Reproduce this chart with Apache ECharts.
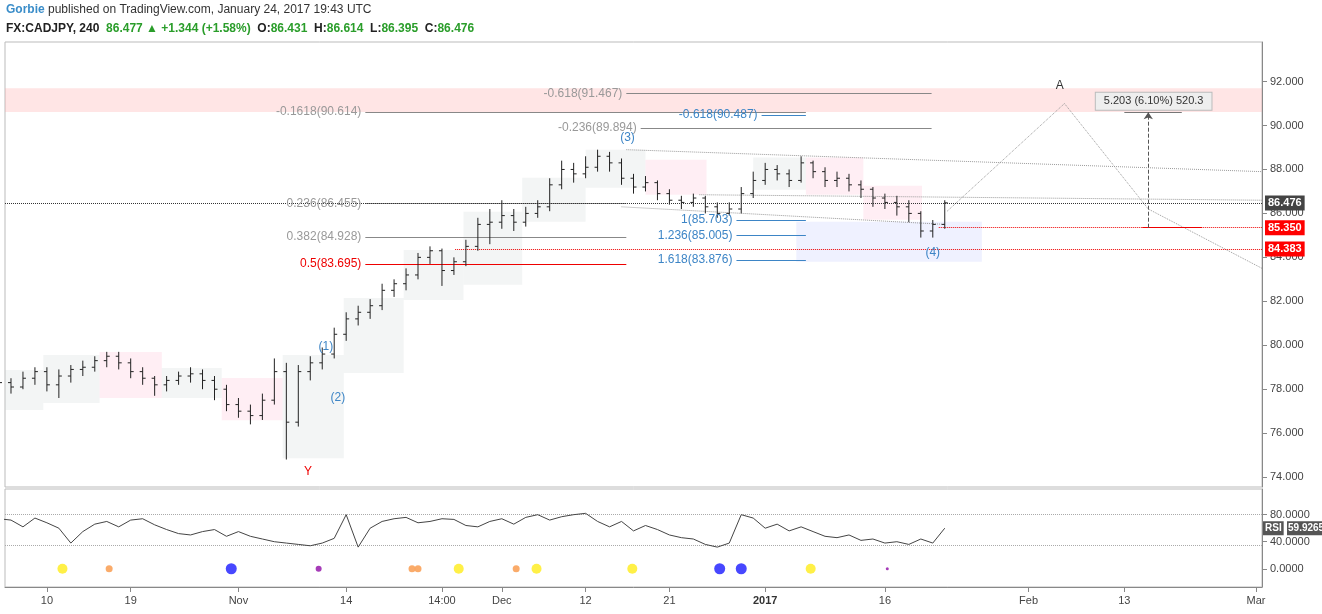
<!DOCTYPE html>
<html><head><meta charset="utf-8">
<script src="https://cdn.jsdelivr.net/npm/echarts@6/dist/echarts.min.js"></script>
<style>html,body{margin:0;padding:0;background:#fff}#c{width:1322px;height:614px}</style>
</head><body><div id="c"></div>
<script>
// daily bars [open, close, low, high], first bar at day index -3 (0 = Oct 10 2016)
const firstIndex = -4;
const bars = [
[78.2,78.3,77.9,78.6],[78.3,78.1,77.8,78.5],[78.1,78.5,78.0,78.8],[78.5,78.8,78.2,79.0],[78.8,78.2,77.9,79.0],
[78.2,78.6,77.6,78.9],[78.6,78.9,78.3,79.1],[78.9,79.0,78.6,79.3],[79.0,79.3,78.8,79.5],[79.3,79.5,79.0,79.7],
[79.5,79.2,78.9,79.7],[79.2,78.8,78.5,79.4],[78.8,78.5,78.2,79.0],[78.5,78.2,77.7,78.6],[78.2,78.4,77.9,78.6],
[78.4,78.6,78.2,78.8],[78.6,78.7,78.3,79.0],[78.7,78.4,78.0,78.9],[78.4,78.0,77.5,78.6],[78.0,77.3,77.0,78.2],
[77.3,77.0,76.7,77.6],[77.0,76.8,76.4,77.3],[76.8,77.5,76.6,77.8],[77.5,78.8,77.3,79.4],[78.8,76.5,74.8,79.2],
[76.5,78.8,76.3,79.1],[78.8,79.2,78.4,79.5],[79.2,79.6,78.9,79.9],[79.6,80.5,79.4,80.8],[80.5,81.2,80.2,81.5],
[81.2,81.5,80.9,81.8],[81.5,81.8,81.2,82.1],[81.8,82.5,81.6,82.8],[82.5,82.8,82.2,83.0],[82.8,83.2,82.5,83.5],
[83.2,84.0,83.0,84.2],[84.0,84.3,83.7,84.5],[84.3,83.4,82.7,84.4],[83.4,83.8,83.2,84.0],[83.8,84.5,83.6,84.8],
[84.5,85.5,84.3,85.8],[85.5,85.6,84.6,86.2],[85.6,85.9,85.3,86.6],[85.9,85.6,85.2,86.2],[85.6,86.0,85.4,86.3],
[86.0,86.3,85.8,86.6],[86.3,87.3,86.1,87.6],[87.3,88.0,87.1,88.4],[88.0,87.8,87.4,88.3],[87.8,88.1,87.6,88.6],
[88.1,88.6,87.9,88.9],[88.6,88.3,87.9,88.8],[88.3,87.6,87.3,88.5],[87.6,87.2,86.9,87.8],[87.2,87.4,87.0,87.7],
[87.4,86.9,86.6,87.5],[86.9,86.6,86.4,87.1],[86.6,86.5,86.2,86.8],[86.5,86.7,86.3,86.9],[86.7,86.3,86.0,86.8],
[86.3,86.0,85.8,86.5],[86.0,86.2,85.9,86.5],[86.2,86.9,86.0,87.2],[86.9,87.5,86.7,87.9],[87.5,88.0,87.3,88.3],
[88.0,87.8,87.5,88.2],[87.8,87.5,87.2,88.0],[87.5,88.3,87.4,88.6],[88.3,87.9,87.6,88.4],[87.9,87.5,87.2,88.1],
[87.5,87.6,87.2,87.9],[87.6,87.3,87.0,87.8],[87.3,87.1,86.7,87.5],[87.1,86.7,86.3,87.2],[86.7,86.5,86.2,86.9],
[86.5,86.3,85.9,86.8],[86.3,86.0,85.6,86.6],[86.0,85.2,84.9,86.1],[85.2,85.5,84.9,85.7],[85.5,86.48,85.3,86.6]
];
const rsi = [74,72,62,75,68,60,38,55,66,70,62,72,74,65,58,52,50,55,58,48,55,48,44,40,38,36,34,38,45,80,
32,60,70,74,76,68,70,74,73,64,62,70,74,66,76,80,72,77,80,82,70,62,70,56,64,58,50,46,44,36,
32,38,80,75,60,66,56,62,55,48,46,50,42,44,38,40,36,44,38,60];
// indicator dots [dayIndex, kind]
const dots = [[1.3,'y'],[5.2,'o'],[15.4,'b'],[22.7,'p'],[30.5,'o'],[31.0,'o'],[34.4,'y'],[39.2,'o'],[40.9,'y'],[48.9,'y'],[56.2,'b'],[58.0,'b'],[63.8,'y'],[70.2,'t']];
const xTicks = [0,7,16,25,33,38,45,52,60,70,82,90,101];
const xTickLabels = ['10','19','Nov','14','14:00','Dec','12','21','2017','16','Feb','13','Mar'];
const yTicks = [74,76,78,80,82,84,86,88,90,92];
const rsiTicks = [0,40,80];
// boxes [x1, x2, priceLow, priceHigh, kind]
const boxes = [
[-3.5,-0.3,77.05,78.87,'g'],[-0.3,4.4,77.37,79.56,'g'],[4.4,9.6,77.6,79.69,'p'],[9.6,14.6,77.6,78.96,'g'],
[14.6,19.7,76.59,78.51,'p'],[19.7,24.8,74.86,79.56,'g'],[24.8,29.8,78.74,82.15,'g'],[29.8,34.8,82.06,84.34,'g'],
[34.8,39.7,82.75,86.07,'g'],[39.7,45.0,85.62,87.62,'g'],[45.0,50.0,87.17,88.9,'g'],[50.0,55.1,86.85,88.44,'p'],
[59.0,63.4,87.08,88.54,'g'],[63.4,68.2,86.85,88.54,'p'],[68.2,73.1,85.71,87.26,'p'],[62.6,78.1,83.8,85.62,'b']
];
// fib lines [x1, x2, price, text, kind]
const fibs = [
[48.4,73.9,91.467,'-0.618(91.467)','gray'],[26.6,63.4,90.614,'-0.1618(90.614)','gray'],
[59.7,63.4,90.487,'-0.618(90.487)','blue'],[49.6,73.9,89.894,'-0.236(89.894)','gray'],
[26.6,48.4,86.455,'0.236(86.455)','gray'],[26.6,48.4,84.928,'0.382(84.928)','gray'],
[26.6,48.4,83.695,'0.5(83.695)','red'],[57.6,63.4,85.703,'1(85.703)','blue'],
[57.6,63.4,85.005,'1.236(85.005)','blue'],[57.6,63.4,83.876,'1.618(83.876)','blue']
];
// dotted trend/projection paths
const paths = [
[[48.4,88.9],[101.5,87.9]],[[54.5,86.85],[101.5,86.6]],[[48.0,86.3],[75.0,85.5]],
[[75.2,86.1],[85.0,91.0]],[[85.0,91.0],[92.0,86.2],[101.5,83.5]]
];
// wave labels [x, price, text, kind]
const waves = [[23.3,79.95,'(1)','blue'],[24.3,77.6,'(2)','blue'],[48.5,89.45,'(3)','blue'],[74.0,84.2,'(4)','blue'],[21.8,74.25,'Y','red'],[84.6,91.8,'A','black']];
const lastPrice = 86.476, level1 = 85.350, level2 = 84.383, rsiLast = 59.9265;
const measure = {x1:91.5,x2:96.5,xv:92.0,from:85.35,to:90.6,text:'5.203 (6.10%) 520.3',lx:87.2,ly:91.1};

const colors = {gray:'#999',blue:'#3d85c6',red:'#e00',black:'#333'};
const boxColors = {g:'rgba(200,210,210,0.22)',p:'rgba(255,200,220,0.3)',b:'rgba(190,200,255,0.25)'};
const dotColors = {y:['#ffee33',10],o:['#f9a25a',7],b:['#3333ff',11],p:['#9c27b0',6],t:['#9c27b0',3]};
const FONT = 'Liberation Sans, Arial, sans-serif';

const ohlc = bars.map((b,i)=>[i+firstIndex].concat(b));
const rsiData = rsi.map((v,i)=>[i+firstIndex,v]);

const chart = echarts.init(document.getElementById('c'));
const markLines = [];
fibs.forEach(f=>{
  markLines.push([{coord:[f[0],f[2]],lineStyle:{color:f[4]==='gray'?'#888':colors[f[4]],width:1,type:'solid'},
    label:{show:true,position:'start',formatter:f[3],color:colors[f[4]],fontSize:12,fontFamily:FONT,distance:4}},{coord:[f[1],f[2]]}]);
});
markLines.push([{coord:[-3.5,lastPrice],lineStyle:{color:'#333',type:'dotted',width:1},label:{show:true,position:'end',formatter:lastPrice.toFixed(3),backgroundColor:'#444',color:'#fff',padding:[2,3],fontWeight:'bold',fontSize:11,distance:3}},{coord:[101.5,lastPrice]}]);
markLines.push([{coord:[74.5,level1],lineStyle:{color:'#e00',type:'dotted',width:1},label:{show:true,position:'end',formatter:level1.toFixed(3),backgroundColor:'#f00',color:'#fff',padding:[2,3],fontWeight:'bold',fontSize:11,distance:3}},{coord:[101.5,level1]}]);
markLines.push([{coord:[34.1,level2],lineStyle:{color:'#e00',type:'dotted',width:1},label:{show:true,position:'end',formatter:level2.toFixed(3),backgroundColor:'#f00',color:'#fff',padding:[2,3],fontWeight:'bold',fontSize:11,distance:3}},{coord:[101.5,level2]}]);
markLines.push([{coord:[measure.x1,measure.from],lineStyle:{color:'#e00',type:'solid',width:1},label:{show:false}},{coord:[measure.x2,measure.from]}]);
markLines.push([{coord:[measure.x1-1.5,measure.to],lineStyle:{color:'#777',type:'solid',width:1},label:{show:false}},{coord:[measure.x2-1.7,measure.to]}]);
markLines.push([{coord:[measure.xv,measure.from],lineStyle:{color:'#555',type:'dashed',width:1},label:{show:false},symbol:'none'},{coord:[measure.xv,measure.to],symbol:'arrow',symbolSize:7}]);

const series = [
 {type:'custom',xAxisIndex:0,yAxisIndex:0,silent:true,z:1,
  data:boxes.map(b=>[b[0],b[1],b[2],b[3],b[4]]),
  renderItem:(p,api)=>{const a=api.coord([api.value(0),api.value(3)]),b=api.coord([api.value(1),api.value(2)]);
    return {type:'rect',shape:{x:a[0],y:a[1],width:b[0]-a[0],height:b[1]-a[1]},style:{fill:boxColors[boxes[p.dataIndex][4]]}};},
  markArea:{silent:true,itemStyle:{color:'rgba(255,160,160,0.28)'},data:[[{coord:[-3.5,90.62]},{coord:[101.5,91.7]}]]}
 },
 {type:'custom',xAxisIndex:0,yAxisIndex:0,z:5,data:ohlc,
  renderItem:(p,api)=>{const x=api.value(0);const o=api.coord([x,api.value(1)]),c=api.coord([x,api.value(2)]),l=api.coord([x,api.value(3)]),h=api.coord([x,api.value(4)]);
   const w=3;const st={stroke:'#222',lineWidth:1};
   return {type:'group',children:[
    {type:'line',shape:{x1:l[0],y1:l[1],x2:h[0],y2:h[1]},style:st},
    {type:'line',shape:{x1:o[0]-w,y1:o[1],x2:o[0],y2:o[1]},style:st},
    {type:'line',shape:{x1:c[0],y1:c[1],x2:c[0]+w,y2:c[1]},style:st}]};}
 },
 {type:'line',xAxisIndex:0,yAxisIndex:0,data:[],symbol:'none',z:6,
  markLine:{silent:true,symbol:'none',animation:false,data:markLines},
  markPoint:{silent:true,symbol:'circle',symbolSize:0,animation:false,data:
   waves.map(w=>({coord:[w[0],w[1]],label:{show:true,formatter:w[2],color:colors[w[3]],fontSize:12,fontFamily:FONT,position:'inside'}}))
   .concat([{coord:[measure.lx,measure.ly],label:{show:true,position:'right',formatter:measure.text,backgroundColor:'#eee',borderColor:'#bbb',borderWidth:1,padding:[3,8],color:'#333',fontSize:11}}])}
 }
].concat(paths.map(pth=>({type:'line',xAxisIndex:0,yAxisIndex:0,data:pth,symbol:'none',silent:true,z:4,lineStyle:{color:'#999',type:'dotted',width:1}})))
.concat([
 {type:'line',xAxisIndex:1,yAxisIndex:1,data:rsiData,symbol:'none',lineStyle:{color:'#444',width:1},z:5,
  markLine:{silent:true,symbol:'none',label:{show:false},lineStyle:{color:'#aaa',type:'dotted',width:1},data:[{yAxis:80},{yAxis:35}]},
  markPoint:{silent:true,symbolSize:0,data:[{coord:[101.5,rsiLast],label:{show:true,position:'right',distance:1,formatter:'{a|RSI} {b|'+rsiLast+'}',
   rich:{a:{backgroundColor:'#555',color:'#fff',padding:[2,2],fontWeight:'bold',fontSize:10},b:{backgroundColor:'#555',color:'#fff',padding:[2,1],fontWeight:'bold',fontSize:10}}}}]}},
 {type:'scatter',xAxisIndex:1,yAxisIndex:1,z:6,data:dots.map(d=>[d[0],0,d[1]]),
  symbolSize:(v)=>dotColors[v[2]][1],itemStyle:{color:(p)=>dotColors[p.data[2]][0],opacity:0.9}}
]);

chart.setOption({
 animation:false,
 textStyle:{fontFamily:FONT},
 grid:[{left:5,right:60,top:42,height:445,show:true,borderColor:'#bbb'},{left:5,right:60,top:489,height:98,show:true,borderColor:'#bbb'}],
 xAxis:[
  {type:'value',gridIndex:0,min:-3.5,max:101.5,axisLabel:{show:false},axisTick:{show:false},axisLine:{show:false,onZero:false},splitLine:{show:false}},
  {type:'value',gridIndex:1,min:-3.5,max:101.5,axisLine:{onZero:false,lineStyle:{color:'#888'}},splitLine:{show:false},
   axisTick:{show:true,customValues:xTicks,lineStyle:{color:'#888'}},
   axisLabel:{customValues:xTicks,color:'#444',fontSize:11,formatter:(v)=>{const i=xTicks.indexOf(v);const t=i<0?'':xTickLabels[i];return t==='2017'?'{b|2017}':t;},rich:{b:{fontWeight:'bold',fontSize:11,color:'#333'}}}}
 ],
 yAxis:[
  {type:'value',gridIndex:0,position:'right',min:73.55,max:93.8,splitLine:{show:false},axisLine:{show:true,onZero:false,lineStyle:{color:'#888'}},
   axisTick:{show:true,customValues:yTicks},axisLabel:{customValues:yTicks,formatter:(v)=>v.toFixed(3),color:'#444',fontSize:11}},
  {type:'value',gridIndex:1,position:'right',min:-27,max:118,splitLine:{show:false},axisLine:{show:true,onZero:false,lineStyle:{color:'#888'}},
   axisTick:{show:true,customValues:rsiTicks},axisLabel:{customValues:rsiTicks,formatter:(v)=>v.toFixed(4),color:'#444',fontSize:11}}
 ],
 graphic:[
  {type:'text',left:6,top:4,style:{text:'{a|Gorbie} published on TradingView.com, January 24, 2017 19:43 UTC',fill:'#333',fontSize:12,fontFamily:FONT,
    rich:{a:{fill:'#3a8dc9',fontWeight:'bold',fontSize:12}}}},
  {type:'text',left:6,top:23,style:{text:'FX:CADJPY, 240  {g|86.477 ▲ +1.344 (+1.58%)}  O:{g|86.431}  H:{g|86.614}  L:{g|86.395}  C:{g|86.476}',
    fill:'#222',fontWeight:'bold',fontSize:12,fontFamily:FONT,rich:{g:{fill:'#2a9d2a',fontWeight:'bold',fontSize:12}}}}
 ],
 series:series
});
</script></body></html>
